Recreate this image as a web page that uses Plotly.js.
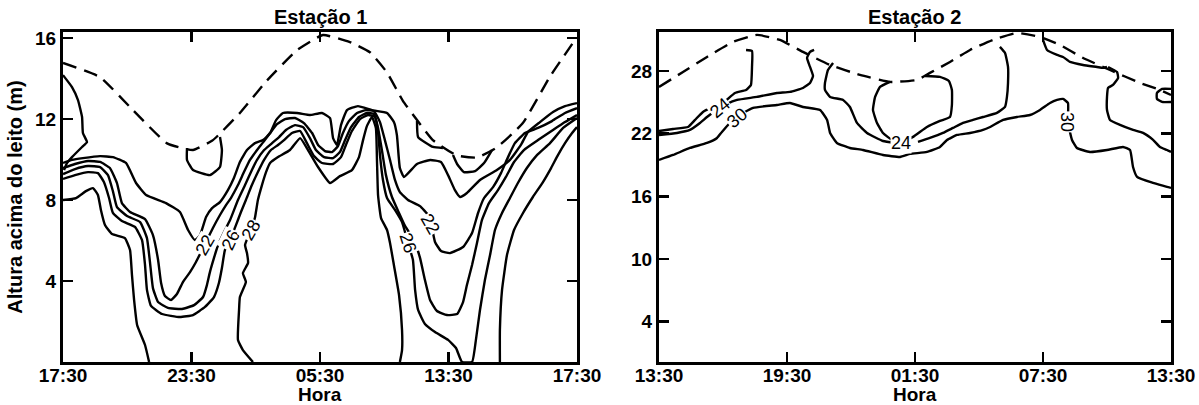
<!DOCTYPE html>
<html><head><meta charset="utf-8">
<script src="https://cdn.plot.ly/plotly-3.0.1.min.js"></script>
<style>html,body{margin:0;padding:0;background:#fff}#chart{width:1199px;height:405px}</style>
</head><body><div id="chart"></div>
<script>
// ---------- axes ----------
const tickHours = [0, 6, 12, 18, 24];
const st1TickText = ['17:30', '23:30', '05:30', '13:30', '17:30'];
const st2TickText = ['13:30', '19:30', '01:30', '07:30', '13:30'];
const st1DepthTicks = [4, 8, 12, 16];
const st2DepthTicks = [4, 10, 16, 22, 28];

// ---------- Estação 1 (hours since start, metres above bed) ----------
const st1SurfX = [0,1.73,3.27,4.86,6.07,7.0,8.26,9.52,10.92,12.14,13.4,14.33,15.13,15.87,16.53,17.27,18.39,19.33,20.26,21.47,22.74,24];
const st1SurfY = [14.77,14.07,12.44,10.8,10.47,10.96,12.3,13.9,15.4,16.15,15.8,15.3,14.3,12.9,11.95,10.96,10.2,10.1,10.6,11.8,14.1,16.05];

const st1EdgeX = [0,0.42,0.70,0.89,0.93,1.12,0.89,0.42,0.19,0.05];
const st1EdgeY = [14.17,13.58,12.94,12.10,11.31,10.86,10.62,10.12,9.83,9.48];

const st1CupAX = [5.79,5.79,6.07,6.86,7.33,7.42,7.33];
const st1CupAY = [10.57,9.98,9.48,9.23,9.63,10.47,11.11];

const st1CupBX = [16.53,16.58,17.28,17.74];
const st1CupBY = [11.90,11.11,10.62,10.57];

const st1CupCX = [18.21,18.40,18.72,19.24,19.66,20.03];
const st1CupCY = [10.22,9.78,9.38,9.43,9.83,10.47];

const st1C20X = [0,0.42,0.93,1.73,2.33,2.94,3.41,3.88,4.81,5.46,5.84,6.16,6.40,6.68,6.96,7.33,7.70,7.98,8.26,8.59,8.96,9.34,9.67,9.95,10.27,10.93,11.53,12.09,12.47,12.61,12.79,12.98,13.26,13.77,14.43,15.13,15.45,15.59,15.73,15.92,16.53,17.14,17.65,17.98,18.30,18.54,18.86,19.47,20.26,20.87,21.38,21.71,22.27,22.88,23.44,24];
const st1C20Y = [9.83,9.98,10.07,10.17,10.12,9.83,8.84,8.25,7.85,7.41,6.52,6.02,6.27,7.16,7.60,7.90,8.49,9.09,9.88,10.47,10.81,10.96,11.31,11.95,12.30,12.30,12.20,12.30,12.05,11.06,10.72,11.70,12.44,12.64,12.44,12.30,11.85,11.21,9.58,9.14,9.78,9.98,9.88,9.23,8.49,8.15,8.35,8.99,9.48,9.98,10.72,11.36,11.85,12.35,12.64,12.79];

const st1C22X = [0,0.56,1.17,1.73,2.19,2.52,2.75,3.13,3.83,4.20,4.44,4.58,4.76,5.04,5.32,5.60,5.93,6.21,6.49,6.72,7.00,7.33,7.61,7.84,8.17,8.45,8.73,9.06,9.39,9.67,9.99,10.37,10.83,11.25,11.63,11.91,12.23,12.56,12.84,13.07,13.35,13.73,14.15,14.52,14.80,15.03,15.27,15.50,15.73,16.11,16.67,17.04,17.23,17.37,17.65,18.07,18.68,19.10,19.38,19.66,20.08,20.45,20.78,21.10,21.57,22.18,22.83,23.44,24];
const st1C22Y = [9.58,9.78,9.93,9.88,9.58,8.84,7.85,7.41,7.06,6.27,5.04,3.90,3.26,3.06,3.36,3.95,4.44,4.94,5.53,6.02,6.62,7.26,7.75,8.10,8.74,9.38,9.98,10.47,10.91,11.31,11.75,12.00,12.05,11.80,11.31,10.72,10.42,10.37,10.67,11.31,11.90,12.30,12.44,12.39,11.85,10.96,9.98,8.99,8.39,8.00,7.70,7.26,6.62,5.93,5.48,5.38,5.68,6.37,7.36,8.10,8.64,9.33,10.12,10.81,11.31,11.56,11.90,12.30,12.54];

const st1C24X = [0,0.56,1.17,1.73,2.10,2.33,2.52,2.99,3.60,3.92,4.06,4.20,4.44,4.90,5.56,6.12,6.54,6.72,6.86,7.05,7.24,7.52,7.80,8.17,8.50,8.82,9.06,9.39,9.76,10.09,10.41,10.83,11.21,11.53,11.81,12.19,12.61,12.93,13.17,13.45,13.82,14.19,14.52,14.71,14.89,15.08,15.36,15.69,15.97,16.39,16.67,16.90,17.14,17.46,17.93,18.40,18.68,18.86,19.10,19.33,19.56,19.89,20.31,20.68,21.06,21.52,22.18,22.88,23.44,24];
const st1C24Y = [9.28,9.53,9.68,9.63,9.23,8.44,7.65,7.21,6.91,6.12,4.94,3.65,2.96,2.67,2.62,2.81,3.21,3.80,4.44,5.14,5.78,6.42,7.01,8.00,8.74,9.48,9.98,10.47,10.81,11.11,11.46,11.70,11.60,11.06,10.47,10.12,10.07,10.37,10.96,11.60,12.10,12.30,12.25,11.56,10.47,9.23,8.15,7.36,6.72,6.02,5.14,4.05,3.06,2.52,2.32,2.37,2.96,3.80,4.79,5.88,7.01,7.85,8.49,9.14,9.88,10.47,10.96,11.46,11.85,12.20];

const st1C26X = [0,0.56,1.17,1.63,1.91,2.15,2.33,2.75,3.36,3.69,3.83,3.92,4.11,4.62,5.46,6.07,6.63,7.05,7.28,7.42,7.56,7.80,8.08,8.31,8.54,8.82,9.10,9.39,9.71,10.04,10.32,10.69,11.07,11.39,11.72,12.09,12.61,12.98,13.21,13.49,13.87,14.24,14.57,14.71,14.80,14.94,15.13,15.50,15.83,16.11,16.34,16.44,16.58,16.90,17.37,17.98,18.35,18.63,19.10,19.28,19.47,19.70,19.94,20.17,20.50,20.87,21.24,21.66,22.13,22.74,23.35,24];
const st1C26Y = [9.04,9.23,9.38,9.33,8.89,8.10,7.36,6.96,6.67,6.02,4.79,3.56,2.77,2.37,2.22,2.32,2.72,3.21,3.90,4.64,5.53,6.02,6.77,7.41,8.00,8.74,9.38,9.98,10.47,10.72,10.96,11.31,11.41,10.81,10.17,9.83,9.78,10.12,10.72,11.41,12.00,12.20,12.10,11.36,10.22,8.99,8.10,7.51,6.91,5.88,5.04,3.56,2.57,1.88,1.48,1.09,0.69,0,0,1.09,2.57,4.05,5.28,6.52,7.36,8.10,8.84,9.58,10.22,10.81,11.56,12.05];

const st1C28aX = [0,0.61,1.07,1.40,1.63,1.77,1.96,2.29,2.89,3.13,3.22,3.32,3.46,3.83,4.02];
const st1C28aY = [8.00,8.10,8.44,8.59,8.25,7.51,6.77,6.32,6.12,5.53,4.30,3.06,1.83,0.84,0];
const st1C28bX = [8.87,8.40,8.17,8.22,8.26,8.54,8.40,8.64,8.59,8.50,8.73,8.96,9.10,9.29,9.48,9.67,10.04,10.60,11.07,11.44,11.91,12.47,12.93,13.49,13.82,14.01,14.19,14.43,14.61,14.66,14.71,14.85,15.13,15.27,15.45,15.69,15.83,15.83,15.73];
const st1C28bY = [0,0.59,1.09,2.57,3.21,3.95,4.39,4.89,5.38,5.78,6.42,7.11,8.00,8.74,9.38,9.83,10.12,10.47,11.06,10.47,9.63,8.84,9.18,9.48,10.12,10.96,11.65,12.10,11.56,9.98,8.25,7.11,6.52,5.88,4.79,3.31,1.58,0.59,0];
const st1C28cX = [20.40,20.40,20.50,20.73,21.06,21.48,21.94,22.41,22.79,23.11,23.44,23.77,24];
const st1C28cY = [0,1.58,3.56,5.28,6.52,7.36,8.15,8.89,9.58,10.22,10.81,11.31,11.60];

const st1LabelText = ['22', '26', '28', '22', '26'];
const st1LabelX = [6.63, 7.84, 8.78, 17.14, 16.11];
const st1LabelY = [5.78, 6.02, 6.52, 6.81, 5.88];
const st1LabelAngle = [-60, -65, -60, 60, 72];

// ---------- Estação 2 ----------
const st2SurfX = [0,1.125,2.25,3.47,4.59,5.67,6.75,8.02,9.42,10.83,12.09,12.70,13.64,14.58,15.66,16.78,17.86,18.80,19.88,21.14,22.55,23.48,24];
const st2SurfY = [26.48,27.91,29.35,30.79,31.46,30.98,29.83,28.58,27.63,26.96,27.15,27.82,28.87,30.02,30.98,31.65,31.27,30.50,29.25,28.10,26.86,26.19,25.71];

const st2AX = [0,0.66,1.36,1.69,2.06,2.53,3.0,3.56,4.08,4.31,4.36,4.36,4.08];
const st2AY = [22.26,22.45,22.64,23.32,24.08,24.56,24.94,25.90,26.19,26.67,28.39,29.92,30.02];

const st2BX = [0,0.84,1.45,1.92,2.25,2.63,3.19,3.66,4.59,5.53,6.14,6.75,7.08,7.22,7.08,6.94,7.08,7.27];
const st2BY = [21.88,22.07,22.36,23.03,23.60,24.18,24.85,25.23,25.52,25.90,26.0,26.38,26.86,27.53,28.39,29.25,29.83,30.02];

const st2C30X = [0,0.66,1.45,2.25,2.72,2.95,3.56,4.41,5.53,6.14,6.75,7.55,7.88,8.02,8.34,8.95,9.56,10.50,11.30,11.77,12.56,13.17,13.50,13.97,14.58,15.19,15.52,16.13,16.78,17.39,17.86,18.33,18.66,18.94,19.17,19.17,19.36,19.59,20.20,21.0,21.75,22.08,22.22,22.41,23.16,23.81,24];
const st2C30Y = [19.48,19.96,20.63,21.11,21.59,22.17,23.51,24.47,24.75,24.94,24.56,24.27,23.32,22.07,21.11,20.63,20.44,19.96,19.77,20.06,20.25,20.73,21.40,21.88,22.07,22.36,22.64,23.32,23.60,23.79,24.27,24.94,25.23,25.33,24.94,23.12,21.40,20.63,20.25,20.44,20.73,20.44,18.81,17.86,17.28,16.90,16.81];

const st2CX = [8.16,7.92,7.78,7.78,8.02,8.63,8.95,9.28,9.75,10.50,11.06];
const st2CY = [28.78,28.10,26.86,26.19,25.52,25.23,24.56,23.03,22.07,21.30,21.11];

const st2LoopX = [10.83,10.36,10.13,10.03,10.22,10.50,10.92,11.44,11.91,12.56,13.17,13.64,13.73,13.73,13.59,13.17,12.47];
const st2LoopY = [26.96,26.48,25.52,24.27,23.03,22.07,21.40,21.30,21.69,22.64,23.22,23.60,24.75,26.19,27.05,27.44,27.53];

const st2DX = [15.98,16.22,16.36,16.36,16.31,16.22,15.84,15.19,14.72,14.25,13.78,13.31,12.70,12.14];
const st2DY = [30.31,29.73,28.39,26.86,25.52,24.56,23.99,23.60,23.32,23.03,22.55,22.07,21.59,21.21];

const st2EX = [18.0,18.19,18.66,18.94,19.27,19.88,20.53,20.81,21.0];
const st2EY = [30.98,30.02,29.54,29.35,28.87,28.58,28.39,28.30,28.39];

const st2FX = [21.05,21.47,21.52,21.28,21.05,21.0,21.0,21.14,21.61,22.22,22.69,23.16,23.48,23.81,24];
const st2FY = [28.39,27.91,27.34,26.67,26.38,25.52,24.27,23.32,22.84,22.36,22.07,21.40,20.73,20.44,20.25];

const st2GX = [24,23.58,23.34,23.34,23.58,24];
const st2GY = [26.29,26.29,25.90,25.33,25.04,25.04];

const st2LabelText = ['24', '30', '24', '30'];
const st2LabelX = [2.86, 3.66, 11.34, 19.13];
const st2LabelY = [24.46, 23.51, 21.11, 23.12];
const st2LabelAngle = [-40, -40, 0, 90];

// ---------- build ----------
const FONT = 'Liberation Sans, Arial, Helvetica, sans-serif';
function contour(x, y, panel, dashed) {
  return {
    type: 'scatter', mode: 'lines', x: x, y: y,
    xaxis: panel === 1 ? 'x' : 'x2', yaxis: panel === 1 ? 'y' : 'y2',
    line: {color: '#000', width: 2.4, shape: 'spline', smoothing: 0.4, dash: dashed ? '14px,8px' : 'solid'},
    hoverinfo: 'skip', showlegend: false
  };
}
const traces = [
  contour(st1SurfX, st1SurfY, 1, true),
  contour(st1EdgeX, st1EdgeY, 1),
  contour(st1CupAX, st1CupAY, 1),
  contour(st1CupBX, st1CupBY, 1),
  contour(st1CupCX, st1CupCY, 1),
  contour(st1C20X, st1C20Y, 1),
  contour(st1C22X, st1C22Y, 1),
  contour(st1C24X, st1C24Y, 1),
  contour(st1C26X, st1C26Y, 1),
  contour(st1C28aX, st1C28aY, 1),
  contour(st1C28bX, st1C28bY, 1),
  contour(st1C28cX, st1C28cY, 1),
  contour(st2SurfX, st2SurfY, 2, true),
  contour(st2AX, st2AY, 2),
  contour(st2BX, st2BY, 2),
  contour(st2C30X, st2C30Y, 2),
  contour(st2CX, st2CY, 2),
  contour(st2LoopX, st2LoopY, 2),
  contour(st2DX, st2DY, 2),
  contour(st2EX, st2EY, 2),
  contour(st2FX, st2FY, 2),
  contour(st2GX, st2GY, 2)
];

const annotations = [];
function addLabels(texts, xs, ys, angles, panel) {
  texts.forEach((t, i) => annotations.push({
    text: t, x: xs[i], y: ys[i], textangle: angles[i],
    xref: panel === 1 ? 'x' : 'x2', yref: panel === 1 ? 'y' : 'y2',
    showarrow: false, bgcolor: '#fff', borderpad: 0,
    font: {family: FONT, size: 18, color: '#000'}
  }));
}
addLabels(st1LabelText, st1LabelX, st1LabelY, st1LabelAngle, 1);
addLabels(st2LabelText, st2LabelX, st2LabelY, st2LabelAngle, 2);

const tickFont = {family: FONT, size: 19, color: '#000', weight: 'bold'};
const titleFont = {family: FONT, size: 20, color: '#000', weight: 'bold'};
const horaFont = {family: FONT, size: 19, color: '#000', weight: 'bold'};
annotations.push({text: 'Estação 1', xref: 'x domain', yref: 'paper', x: 0.5, y: 1, yanchor: 'middle', yshift: 15, showarrow: false, font: titleFont});
annotations.push({text: 'Estação 2', xref: 'x2 domain', yref: 'paper', x: 0.5, y: 1, yanchor: 'middle', yshift: 15, showarrow: false, font: titleFont});
annotations.push({text: 'Hora', xref: 'x domain', yref: 'paper', x: 0.5, y: 0, yanchor: 'middle', yshift: -32, showarrow: false, font: horaFont});
annotations.push({text: 'Hora', xref: 'x2 domain', yref: 'paper', x: 0.5, y: 0, yanchor: 'middle', yshift: -32, showarrow: false, font: horaFont});

const axisCommon = {
  showline: true, linecolor: '#000', linewidth: 3, mirror: 'ticks',
  ticks: 'inside', ticklen: 10, tickwidth: 2.5, tickcolor: '#000',
  showgrid: false, zeroline: false, tickfont: tickFont, fixedrange: true
};

const layout = {
  width: 1199, height: 405,
  margin: {l: 63, r: 28, t: 32, b: 43},
  paper_bgcolor: '#fff', plot_bgcolor: '#fff',
  showlegend: false, hovermode: false,
  xaxis: Object.assign({}, axisCommon, {domain: [0, 0.4639], range: [0, 24], tickvals: tickHours, ticktext: st1TickText, ticklabelstandoff: -6}),
  yaxis: Object.assign({}, axisCommon, {range: [0, 16.3], tickvals: st1DepthTicks,
    title: {text: 'Altura acima do leito (m)', font: titleFont, standoff: 8}}),
  xaxis2: Object.assign({}, axisCommon, {domain: [0.5379, 1], range: [0, 24], tickvals: tickHours, ticktext: st2TickText, anchor: 'y2', ticklabelstandoff: -6}),
  yaxis2: Object.assign({}, axisCommon, {range: [0.13, 31.74], tickvals: st2DepthTicks, anchor: 'x2'}),
  annotations: annotations
};

Plotly.newPlot('chart', traces, layout, {displayModeBar: false, staticPlot: true});
</script>
</body></html>
